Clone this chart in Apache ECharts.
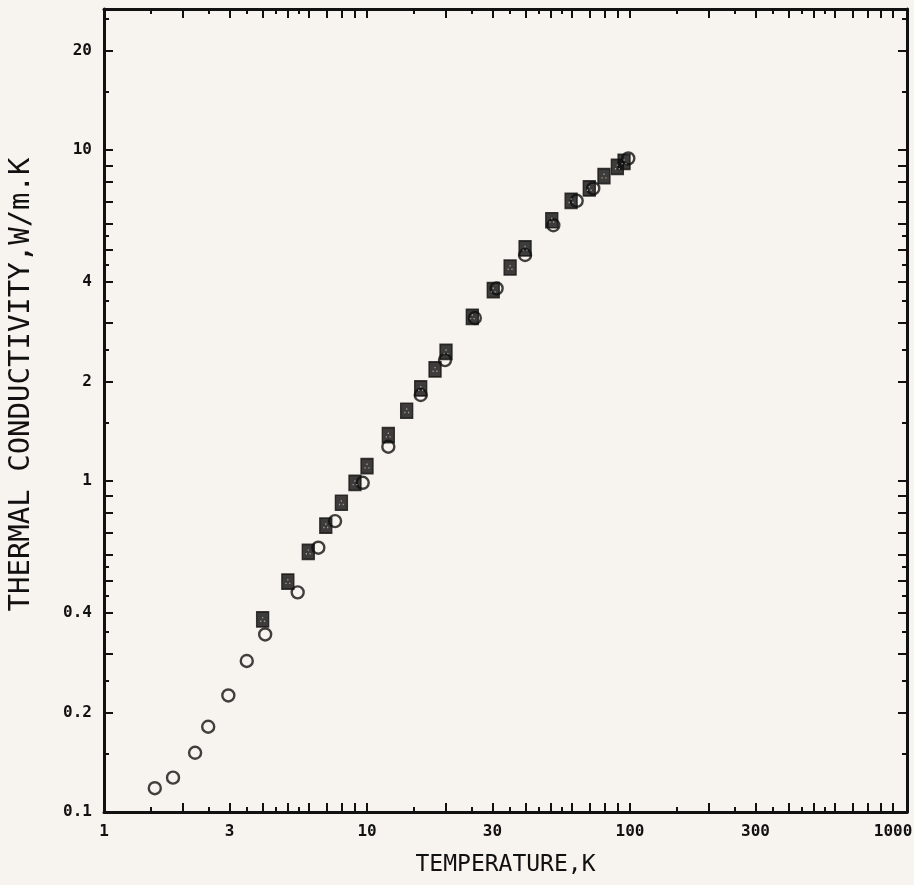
<!DOCTYPE html>
<html>
<head>
<meta charset="utf-8">
<script src="https://cdn.jsdelivr.net/npm/echarts@6/dist/echarts.min.js"></script>
<style>
html,body{margin:0;padding:0;background:#f7f3ee;}
#chart{width:914px;height:885px;}
</style>
</head>
<body>
<div id="chart"></div>
<script>
// ---- data (temperature K, thermal conductivity W/m.K) ----
var circleT = [1.56, 1.83, 2.22, 2.49, 2.97, 3.49, 4.1, 5.45, 6.53, 7.56, 9.63, 12.05, 16.0, 19.8, 25.7, 31.1, 39.9, 51.1, 62.7, 72.5, 98.5];
var circleK = [0.118, 0.127, 0.151, 0.181, 0.225, 0.286, 0.344, 0.461, 0.629, 0.757, 0.988, 1.27, 1.82, 2.32, 3.11, 3.82, 4.82, 5.93, 7.03, 7.66, 9.44];
var squareT = [4.01, 5.0, 5.98, 6.97, 7.99, 9.0, 10.0, 12.05, 14.15, 16.0, 18.14, 19.97, 25.14, 30.2, 35.0, 39.9, 50.4, 59.7, 70.0, 79.6, 89.5, 94.9];
var squareK = [0.382, 0.497, 0.611, 0.733, 0.860, 0.988, 1.11, 1.377, 1.631, 1.905, 2.175, 2.458, 3.136, 3.776, 4.42, 5.05, 6.14, 7.03, 7.66, 8.35, 8.90, 9.22];

// ---- tick labels ----
var xLabels = [1, 3, 10, 30, 100, 300, 1000];
var yLabels = [0.1, 0.2, 0.4, 1, 2, 4, 10, 20];
var xMin = 1, xMax = 1130;
var yMin = 0.1, yMax = 26.7;
var longMult = [1, 2, 3, 4, 5, 6, 7, 8, 9];
var shortMult = [1.5, 2.5, 3.5, 4.5, 5.5];
var xDecades = [1, 10, 100, 1000];
var yDecades = [0.1, 1, 10];

function lg(v){ return Math.log10(v); }
function ticks(decades, mults, lo, hi){
  var out = [];
  decades.forEach(function(d){ mults.forEach(function(m){ var v = d*m; if (v >= lo*0.9999 && v <= hi*1.0001) out.push(lg(v)); }); });
  return out;
}
function fmt(v){ return String(+Math.pow(10, v).toPrecision(3)); }

var FONT = 'DejaVu Sans Mono';
var INK = '#111';

function mkAxis(kind, pos, longTicks, showLine, showLabels, labels, lo, hi, name){
  var a = {
    type: 'value', position: pos, min: lg(lo), max: lg(hi),
    splitLine: {show: false},
    axisLine: {show: showLine, onZero: false, lineStyle: {color: INK, width: 3}},
    axisTick: {show: true, inside: true, length: longTicks ? 9 : 5,
      customValues: longTicks ? ticks(kind === 'x' ? xDecades : yDecades, longMult, lo, hi)
                              : ticks(kind === 'x' ? xDecades : yDecades, shortMult, lo, hi),
      lineStyle: {color: INK, width: 2}},
    axisLabel: {show: showLabels, customValues: labels.map(lg), formatter: fmt,
      color: INK, fontFamily: FONT, fontSize: 16, fontWeight: 'bold', margin: 12}
  };
  if (name) {
    a.name = name; a.nameLocation = 'middle';
    if (kind === 'x') {
      a.nameGap = 42;
      a.nameTextStyle = {color: INK, fontFamily: FONT, fontSize: 23};
    } else {
      a.nameGap = 68;
      a.nameTextStyle = {color: INK, fontFamily: FONT, fontSize: 29, padding: [0, 0, 0, 52]};
    }
  }
  return a;
}

var option = {
  backgroundColor: '#f7f3ee',
  animation: false,
  grid: {left: 104, top: 9, right: 7, bottom: 73, containLabel: false, outerBoundsMode: 'none'},
  xAxis: [
    mkAxis('x', 'bottom', true, true, true, xLabels, xMin, xMax, 'TEMPERATURE,K'),
    mkAxis('x', 'bottom', false, false, false, xLabels, xMin, xMax),
    mkAxis('x', 'top', true, true, false, xLabels, xMin, xMax),
    mkAxis('x', 'top', false, false, false, xLabels, xMin, xMax)
  ],
  yAxis: [
    mkAxis('y', 'left', true, true, true, yLabels, yMin, yMax, 'THERMAL CONDUCTIVITY,W/m.K'),
    mkAxis('y', 'left', false, false, false, yLabels, yMin, yMax),
    mkAxis('y', 'right', true, true, false, yLabels, yMin, yMax),
    mkAxis('y', 'right', false, false, false, yLabels, yMin, yMax)
  ],
  series: [
    {
      type: 'scatter', xAxisIndex: 0, yAxisIndex: 0,
      data: circleT.map(function(t, i){ return [lg(t), lg(circleK[i])]; }),
      symbol: 'circle', symbolSize: 12,
      itemStyle: {color: 'rgba(0,0,0,0)', borderColor: INK, borderWidth: 2.4}
    },
    {
      type: 'scatter', xAxisIndex: 0, yAxisIndex: 0,
      data: squareT.map(function(t, i){ return [lg(t), lg(squareK[i])]; }),
      symbol: 'rect', symbolSize: [12, 15],
      itemStyle: {color: '#0e0e0e', borderColor: INK, borderWidth: 1.5}
    },
    {
      type: 'scatter', xAxisIndex: 0, yAxisIndex: 0,
      data: squareT.map(function(t, i){ return [lg(t), lg(squareK[i])]; }),
      symbol: 'path://M3,0h2v2h-2z M0,5h2v2h-2z M6,5h2v2h-2z', symbolSize: [5, 5],
      itemStyle: {color: '#bdb7ae'}
    }
  ]
};

var chart = echarts.init(document.getElementById('chart'), null, {renderer: 'canvas'});
chart.setOption(option);
</script>
</body>
</html>
